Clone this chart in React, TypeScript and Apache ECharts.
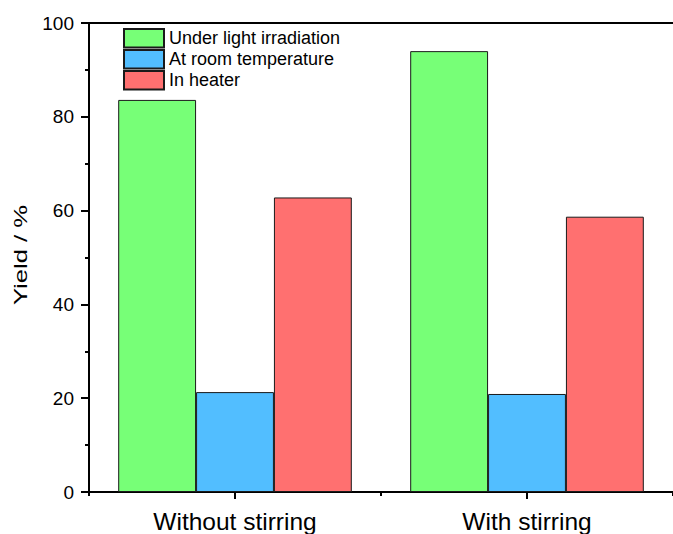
import React, { useEffect, useRef } from "react";
import * as echarts from "echarts";

const categories = ["Without stirring", "With stirring"];
const seriesNames = ["Under light irradiation", "At room temperature", "In heater"];
const underLight = [83.6, 94.0];
const roomTemp = [21.3, 20.9];
const inHeater = [62.8, 58.7];
const colors = ["#77FF77", "#52BEFF", "#FF7070"];
const yAxisTitle = "Yield / %";

export default function App() {
  const ref = useRef<HTMLDivElement>(null);
  useEffect(() => {
    if (!ref.current) return;
    const chart = echarts.init(ref.current, null, { renderer: "svg" });
    const font = "Liberation Sans, Arial, sans-serif";
    const values = [underLight, roomTemp, inHeater];
    chart.setOption({
      animation: false,
      backgroundColor: "#ffffff",
      textStyle: { fontFamily: font, color: "#000" },
      grid: { left: 89, top: 23, width: 592, bottom: 41, containLabel: false },
      legend: {
        left: 118,
        top: 23,
        orient: "vertical",
        icon: "rect",
        itemWidth: 40,
        itemHeight: 18.5,
        itemGap: 0.5,
        textStyle: { fontSize: 18, lineHeight: 18, fontFamily: font, color: "#000" },
        data: seriesNames,
      },
      graphic: [
        {
          type: "text",
          x: 21,
          y: 255,
          rotation: Math.PI / 2,
          scaleX: 1.35,
          style: {
            text: yAxisTitle,
            fontSize: 19,
            fontFamily: font,
            fill: "#000",
            align: "center",
            verticalAlign: "middle",
          },
        },
      ],
      xAxis: [
        {
          type: "category",
          data: categories,
          position: "bottom",
          axisLine: { show: true, lineStyle: { color: "#000", width: 2 } },
          axisTick: { show: true, alignWithLabel: true, length: 7, lineStyle: { color: "#000", width: 2 } },
          axisLabel: { fontSize: 24.5, color: "#000", margin: 17, fontFamily: font },
          splitLine: { show: false },
        },
        {
          type: "category",
          data: categories,
          position: "bottom",
          axisLine: { show: false },
          axisTick: { show: true, length: 4, lineStyle: { color: "#000", width: 2 } },
          axisLabel: { show: false },
          splitLine: { show: false },
        },
        {
          type: "category",
          data: categories,
          position: "top",
          axisLine: { show: true, lineStyle: { color: "#000", width: 2 } },
          axisTick: { show: false },
          axisLabel: { show: false },
          splitLine: { show: false },
        },
      ],
      yAxis: {
        type: "value",
        min: 0,
        max: 100,
        interval: 20,
        axisLine: { show: true, lineStyle: { color: "#000", width: 2 } },
        axisTick: { show: true, length: 8, lineStyle: { color: "#000", width: 2 } },
        minorTick: { show: true, splitNumber: 2, length: 4, lineStyle: { color: "#000", width: 2 } },
        axisLabel: { fontSize: 19, color: "#000", margin: 15, fontFamily: font },
        splitLine: { show: false },
        minorSplitLine: { show: false },
      },
      series: seriesNames.map((name, i) => ({
        name,
        type: "bar",
        xAxisIndex: 0,
        data: values[i],
        barGap: "0%",
        barCategoryGap: "20%",
        itemStyle: { color: colors[i], borderColor: "#1a1a1a", borderWidth: 1 },
      })),
    });
    return () => chart.dispose();
  }, []);
  return (
    <div
      ref={ref}
      style={{ position: "fixed", left: 0, top: 0, width: 673, height: 534 }}
    />
  );
}
